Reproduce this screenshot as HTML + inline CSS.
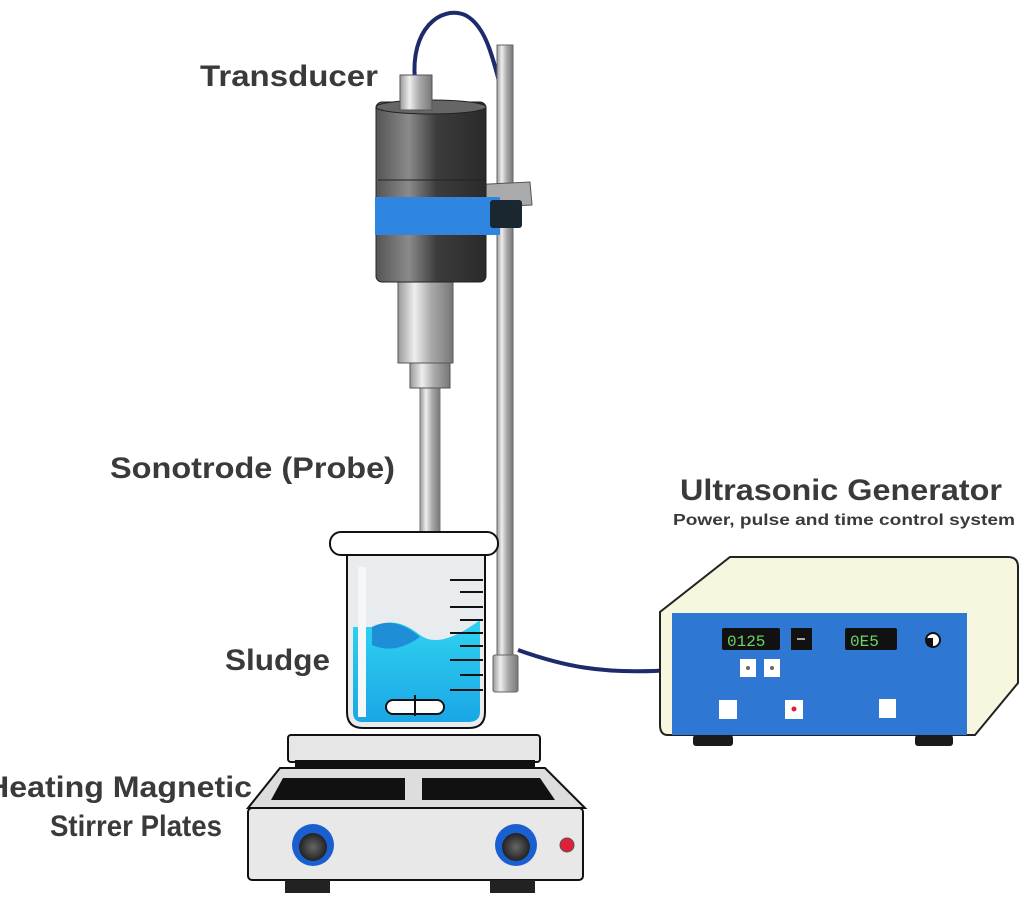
<!DOCTYPE html>
<html><head><meta charset="utf-8"><style>
html,body{margin:0;padding:0;background:#fff;width:1024px;height:903px;overflow:hidden}
svg{display:block}
text{font-family:"Liberation Sans",sans-serif;fill:#3a3a3a;font-weight:bold}
</style></head><body>
<svg width="1024" height="903" viewBox="0 0 1024 903">
<defs>
<linearGradient id="metal" x1="0" x2="1"><stop offset="0" stop-color="#555"/><stop offset=".3" stop-color="#8a8a8a"/><stop offset=".55" stop-color="#3c3c3c"/><stop offset="1" stop-color="#2a2a2a"/></linearGradient>
<linearGradient id="steel" x1="0" x2="1"><stop offset="0" stop-color="#999"/><stop offset=".3" stop-color="#eee"/><stop offset=".6" stop-color="#aaa"/><stop offset="1" stop-color="#777"/></linearGradient>
<linearGradient id="water" x1="0" y1="0" x2="0" y2="1"><stop offset="0" stop-color="#2fd3f0"/><stop offset="1" stop-color="#1aa6e6"/></linearGradient>
<radialGradient id="knob"><stop offset="0" stop-color="#666"/><stop offset="1" stop-color="#222"/></radialGradient>
</defs>
<path d="M415 80 C410 30 440 5 465 15 C485 25 492 55 500 85" fill="none" stroke="#1d2a6b" stroke-width="4"/>
<rect x="497" y="45" width="16" height="615" fill="url(#steel)" stroke="#666" stroke-width="1"/>
<rect x="493" y="655" width="25" height="37" rx="2" fill="url(#steel)" stroke="#666"/>
<polygon points="470,185 530,182 532,205 470,208" fill="#aaa" stroke="#555"/>
<rect x="420" y="385" width="20" height="148" fill="url(#steel)" stroke="#777"/>
<rect x="410" y="355" width="40" height="33" fill="url(#steel)" stroke="#555"/>
<rect x="398" y="278" width="55" height="85" fill="url(#steel)" stroke="#555"/>
<rect x="376" y="102" width="110" height="180" rx="6" fill="url(#metal)" stroke="#222"/>
<ellipse cx="431" cy="107" rx="55" ry="7" fill="#666" stroke="#222"/>
<line x1="378" y1="180" x2="484" y2="180" stroke="#222"/>
<rect x="400" y="75" width="32" height="35" fill="url(#steel)" stroke="#555"/>
<path d="M375 197 L500 197 L500 235 L375 235 Z" fill="#2f86e0"/>
<rect x="490" y="200" width="32" height="28" rx="3" fill="#1a2630"/>
<path d="M518 650 C560 665 600 675 672 670" fill="none" stroke="#1d2a6b" stroke-width="4"/>
<path d="M347 555 L347 712 Q347 728 363 728 L469 728 Q485 728 485 712 L485 555 Z" fill="#e9ecef" stroke="#111" stroke-width="2"/>
<path d="M353 627 L375 627 Q395 615 420 635 Q440 650 480 620 L480 712 Q480 722 468 722 L362 722 Q353 722 353 712 Z" fill="url(#water)"/>
<path d="M372 627 Q395 615 420 637 Q395 655 372 645 Z" fill="#1e8ed6"/>
<rect x="358" y="567" width="8" height="150" fill="#f6f7f8"/>
<g stroke="#111" stroke-width="2">
<line x1="450" y1="580" x2="483" y2="580"/><line x1="460" y1="592" x2="483" y2="592"/>
<line x1="450" y1="607" x2="483" y2="607"/><line x1="460" y1="620" x2="483" y2="620"/>
<line x1="450" y1="633" x2="483" y2="633"/><line x1="460" y1="646" x2="483" y2="646"/>
<line x1="450" y1="660" x2="483" y2="660"/><line x1="460" y1="675" x2="483" y2="675"/>
<line x1="450" y1="690" x2="483" y2="690"/></g>
<rect x="386" y="700" width="58" height="14" rx="7" fill="#fff" stroke="#111" stroke-width="2"/>
<line x1="415" y1="695" x2="415" y2="716" stroke="#111" stroke-width="2"/>
<rect x="330" y="532" width="168" height="23" rx="11" fill="#fff" stroke="#111" stroke-width="2"/>
<rect x="288" y="735" width="252" height="27" rx="3" fill="#e6e6e6" stroke="#111" stroke-width="2"/>
<rect x="295" y="760" width="240" height="10" fill="#111"/>
<polygon points="280,768 545,768 585,808 248,808" fill="#ddd" stroke="#111" stroke-width="2"/>
<polygon points="283,778 405,778 405,800 271,800" fill="#111"/>
<polygon points="422,778 540,778 555,800 422,800" fill="#111"/>
<rect x="248" y="808" width="335" height="72" rx="4" fill="#e8e8e8" stroke="#111" stroke-width="2"/>
<rect x="285" y="880" width="45" height="13" fill="#222"/><rect x="490" y="880" width="45" height="13" fill="#222"/>
<circle cx="313" cy="845" r="21" fill="#1a5fd0"/><circle cx="313" cy="847" r="14" fill="url(#knob)"/>
<circle cx="516" cy="845" r="21" fill="#1a5fd0"/><circle cx="516" cy="847" r="14" fill="url(#knob)"/>
<circle cx="567" cy="845" r="7" fill="#e0203a" stroke="#555"/>
<path d="M730 557 L1008 557 Q1018 557 1018 567 L1018 683 L975 735 L668 735 Q660 735 660 725 L660 612 Z" fill="#f7f6df" stroke="#222" stroke-width="2"/>
<rect x="672" y="613" width="295" height="122" fill="#2e78d4"/>
<rect x="693" y="735" width="40" height="11" rx="3" fill="#1a1a1a"/><rect x="915" y="735" width="38" height="11" rx="3" fill="#1a1a1a"/>
<rect x="722" y="628" width="58" height="22" rx="2" fill="#111"/><text x="727" y="646" style="font-size:16px;fill:#6ad46a;font-weight:normal;font-family:'Liberation Mono',monospace">0125</text>
<rect x="791" y="628" width="21" height="22" fill="#111"/><rect x="797" y="638" width="8" height="2" fill="#aaa"/>
<rect x="845" y="628" width="52" height="22" rx="2" fill="#111"/><text x="850" y="646" style="font-size:16px;fill:#6ad46a;font-weight:normal;font-family:'Liberation Mono',monospace">0E5</text>
<circle cx="933" cy="640" r="7" fill="#fff" stroke="#111" stroke-width="2"/><rect x="927" y="638" width="6" height="8" fill="#111"/>
<rect x="740" y="659" width="16" height="18" fill="#fff"/><circle cx="748" cy="668" r="2" fill="#666"/>
<rect x="764" y="659" width="16" height="18" fill="#fff"/><circle cx="772" cy="668" r="2" fill="#666"/>
<rect x="719" y="700" width="18" height="19" fill="#fff"/>
<rect x="785" y="700" width="18" height="19" fill="#fff"/><circle cx="794" cy="709" r="2.5" fill="#e02030"/>
<rect x="879" y="699" width="17" height="19" fill="#fff"/>
<text x="200" y="86" style="font-size:30px" textLength="178" lengthAdjust="spacingAndGlyphs">Transducer</text>
<text x="110" y="478" style="font-size:30px" textLength="285" lengthAdjust="spacingAndGlyphs">Sonotrode (Probe)</text>
<text x="225" y="670" style="font-size:30px" textLength="105" lengthAdjust="spacingAndGlyphs">Sludge</text>
<text x="-14" y="797" style="font-size:30px" textLength="266" lengthAdjust="spacingAndGlyphs">Heating Magnetic</text>
<text x="50" y="836" style="font-size:30px" textLength="172" lengthAdjust="spacingAndGlyphs">Stirrer Plates</text>
<text x="680" y="500" style="font-size:30px" textLength="322" lengthAdjust="spacingAndGlyphs">Ultrasonic Generator</text>
<text x="673" y="525" style="font-size:16px" textLength="342" lengthAdjust="spacingAndGlyphs">Power, pulse and time control system</text>
</svg>
</body></html>
